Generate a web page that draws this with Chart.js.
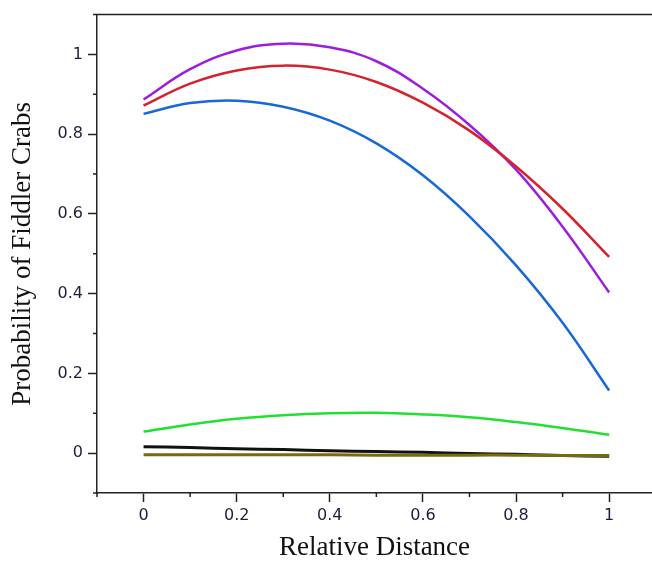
<!DOCTYPE html>
<html>
<head>
<meta charset="utf-8">
<script src="https://cdn.jsdelivr.net/npm/chart.js@4"></script>
<style>
  html, body { margin: 0; padding: 0; background: #fff; }
  canvas { display: block; }
</style>
</head>
<body>
<canvas id="crabChart" width="652" height="565"></canvas>
<script>
// relative distance sample points
const distance = [0, 0.1, 0.2, 0.3, 0.4, 0.5, 0.6, 0.7, 0.8, 0.9, 1];

// curves
const purpleCurve = [0.887, 0.963, 1.010, 1.027, 1.018, 0.983, 0.914, 0.823, 0.711, 0.568, 0.403];
const redCurve    = [0.872, 0.927, 0.960, 0.972, 0.962, 0.931, 0.879, 0.809, 0.719, 0.613, 0.492];
const blueCurve   = [0.851, 0.878, 0.884, 0.869, 0.834, 0.777, 0.697, 0.594, 0.471, 0.327, 0.157];
const greenCurve  = [0.054, 0.072, 0.086, 0.095, 0.100, 0.101, 0.097, 0.090, 0.078, 0.063, 0.046];
const blackCurve  = [0.016, 0.014, 0.011, 0.009, 0.006, 0.004, 0.002, -0.001, -0.003, -0.006, -0.008];
const oliveCurve  = [-0.004, -0.004, -0.004, -0.004, -0.004, -0.005, -0.005, -0.005, -0.005, -0.006, -0.006];

const yLabels = [0, 0.2, 0.4, 0.6, 0.8, 1];
const xLabels = [0, 0.2, 0.4, 0.6, 0.8, 1];

function pts(ys) {
    return distance.map((x, i) => ({ x: x, y: ys[i] }));
}

function series(ys, color, width) {
    return {
        data: pts(ys),
        borderColor: color,
        borderWidth: width,
        pointRadius: 0,
        tension: 0.4,
        fill: false,
    };
}

const isMajor = v => Math.abs(Math.round(v * 10)) % 2 === 0;
const tickText = (list) => (v) => {
    const r = Math.round(v * 10) / 10;
    return list.includes(r) ? String(r) : '';
};

// minor ticks + top frame line
const frame = {
    id: 'frame',
    afterDraw(chart) {
        const ctx = chart.ctx;
        const area = chart.chartArea;
        const xs = chart.scales.x, ys = chart.scales.y;
        ctx.save();
        ctx.strokeStyle = '#222';
        ctx.lineWidth = 1.5;
        ctx.beginPath();
        xs.ticks.forEach(t => {
            if (isMajor(t.value)) return;
            const px = xs.getPixelForValue(t.value);
            ctx.moveTo(px, area.bottom);
            ctx.lineTo(px, area.bottom + 4);
        });
        ys.ticks.forEach(t => {
            if (isMajor(t.value)) return;
            const py = ys.getPixelForValue(t.value);
            ctx.moveTo(area.left, py);
            ctx.lineTo(area.left - 4, py);
        });
        ctx.moveTo(area.left - 4, area.top);
        ctx.lineTo(area.right, area.top);
        ctx.stroke();
        ctx.restore();
    }
};

const tickFont = { family: 'DejaVu Sans', size: 16 };
const titleFont = { family: 'Liberation Serif', size: 27 };
const labelColor = '#1e1e3c';

new Chart(document.getElementById('crabChart').getContext('2d'), {
    type: 'line',
    data: {
        datasets: [
            series(oliveCurve, '#7a6a08', 3),
            series(blackCurve, '#111111', 3),
            series(greenCurve, '#22e032', 2.5),
            series(blueCurve, '#1868d8', 2.5),
            series(redCurve, '#d4232c', 2.5),
            series(purpleCurve, '#9b1ee0', 2.5),
        ],
    },
    options: {
        responsive: false,
        animation: false,
        layout: { padding: { top: 13, right: 0, left: 0, bottom: 0 } },
        plugins: {
            legend: { display: false },
            tooltip: { enabled: false },
        },
        scales: {
            x: {
                type: 'linear',
                min: -0.1,
                max: 1.092,
                afterFit: s => { s.height = 72; },
                ticks: {
                    stepSize: 0.1,
                    includeBounds: false,
                    autoSkip: false,
                    maxRotation: 0,
                    padding: 4,
                    font: tickFont,
                    color: labelColor,
                    callback: tickText(xLabels),
                },
                grid: {
                    drawOnChartArea: false,
                    tickLength: 9,
                    tickWidth: 1.5,
                    color: c => isMajor(c.tick.value) ? '#222' : 'rgba(0,0,0,0)',
                },
                border: { color: '#222', width: 1.5 },
                title: {
                    display: true,
                    text: 'Relative Distance',
                    font: titleFont,
                    color: '#111',
                    padding: { top: 0, bottom: 1 },
                },
            },
            y: {
                type: 'linear',
                min: -0.1,
                max: 1.1,
                afterFit: s => { s.width = 97; },
                ticks: {
                    stepSize: 0.1,
                    includeBounds: false,
                    autoSkip: false,
                    padding: 5,
                    font: tickFont,
                    color: labelColor,
                    callback: tickText(yLabels),
                },
                grid: {
                    drawOnChartArea: false,
                    tickLength: 9,
                    tickWidth: 1.5,
                    color: c => isMajor(c.tick.value) ? '#222' : 'rgba(0,0,0,0)',
                },
                border: { color: '#222', width: 1.5 },
                title: {
                    display: true,
                    text: 'Probability of Fiddler Crabs',
                    font: titleFont,
                    color: '#111',
                    padding: { top: 7, bottom: 0 },
                },
            },
        },
    },
    plugins: [frame],
});
</script>
</body>
</html>
